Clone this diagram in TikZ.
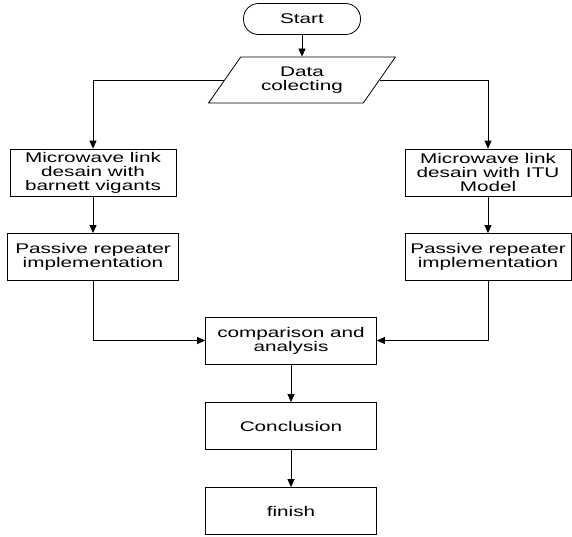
\documentclass[tikz,border=0pt]{standalone}
\usepackage{fontspec}
\setmainfont{Liberation Sans}
\newfontfamily\flowfont[FakeStretch=1.48]{Liberation Sans}
\usetikzlibrary{shapes.geometric,arrows.meta,positioning}

\begin{document}
\begin{tikzpicture}[x=1pt,y=-1pt,line width=0.8pt,
	every node/.style={font=\flowfont\fontsize{14}{14}\selectfont,align=center,inner sep=0pt},
	process/.style={draw,rectangle,minimum width=#1,minimum height=47pt},
	process/.default=171pt,
	arrow/.style={-{Triangle[length=8pt,width=7pt]}}]
\useasboundingbox (0,0) rectangle (572,536);

\node[draw,rounded corners=15pt,minimum width=117pt,minimum height=31pt] (start) at (302,19) {Start};
\node[draw,trapezium,trapezium left angle=51,trapezium right angle=129,trapezium stretches=true,
	minimum width=187pt,minimum height=46pt] (data) at (302,80) {Data\\colecting};

\node[process=166pt] (mwBarnett) at (93,172.5) {Microwave link\\desain with\\barnett vigants};
\node[process=166pt] (mwITU) at (488,172.5) {Microwave link\\desain with ITU\\Model};
\node[process=171pt] (repBarnett) at (93,257) {Passive repeater\\implementation};
\node[process=166pt] (repITU) at (488,257) {Passive repeater\\implementation};

\node[process] (compare) at (291,340.5) {comparison and\\analysis};
\node[process] (concl) at (291,426) {Conclusion};
\node[process] (finish) at (291,511) {finish};

\draw[arrow] (start) -- (data);
\draw[arrow] (data.west) -| (mwBarnett.north);
\draw[arrow] (data.east) -| (mwITU.north);
\draw[arrow] (mwBarnett) -- (repBarnett);
\draw[arrow] (mwITU) -- (repITU);
\draw[arrow] (repBarnett.south) |- (compare.west);
\draw[arrow] (repITU.south) |- (compare.east);
\draw[arrow] (compare) -- (concl);
\draw[arrow] (concl) -- (finish);
\end{tikzpicture}
\end{document}
